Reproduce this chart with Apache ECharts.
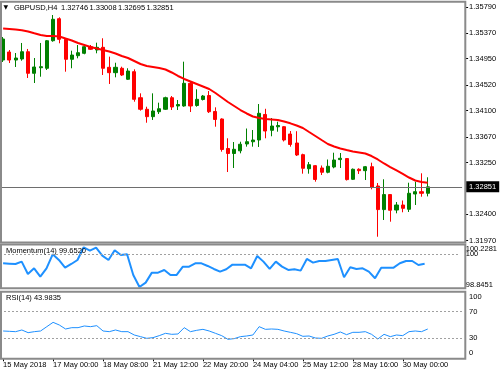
<!DOCTYPE html>
<html>
<head>
<meta charset="utf-8">
<script src="https://cdn.jsdelivr.net/npm/echarts@6.0.0/dist/echarts.min.js"></script>
<style>html,body{margin:0;padding:0;background:#fff;}#chart{width:500px;height:375px;}</style>
</head>
<body>
<div id="chart"></div>
<script>
const symbolName = 'GBPUSD,H4';
const times = [
'2018-05-15 16:00','2018-05-15 20:00','2018-05-16 00:00','2018-05-16 04:00','2018-05-16 08:00','2018-05-16 12:00','2018-05-16 16:00','2018-05-16 20:00','2018-05-17 00:00','2018-05-17 04:00',
'2018-05-17 08:00','2018-05-17 12:00','2018-05-17 16:00','2018-05-17 20:00','2018-05-18 00:00','2018-05-18 04:00','2018-05-18 08:00','2018-05-18 12:00','2018-05-18 16:00','2018-05-18 20:00',
'2018-05-20 20:00','2018-05-21 00:00','2018-05-21 04:00','2018-05-21 08:00','2018-05-21 12:00','2018-05-21 16:00','2018-05-21 20:00','2018-05-22 00:00','2018-05-22 04:00','2018-05-22 08:00',
'2018-05-22 12:00','2018-05-22 16:00','2018-05-22 20:00','2018-05-23 00:00','2018-05-23 04:00','2018-05-23 08:00','2018-05-23 12:00','2018-05-23 16:00','2018-05-23 20:00','2018-05-24 00:00',
'2018-05-24 04:00','2018-05-24 08:00','2018-05-24 12:00','2018-05-24 16:00','2018-05-24 20:00','2018-05-25 00:00','2018-05-25 04:00','2018-05-25 08:00','2018-05-25 12:00','2018-05-25 16:00',
'2018-05-25 20:00','2018-05-27 20:00','2018-05-28 00:00','2018-05-28 04:00','2018-05-28 08:00','2018-05-28 12:00','2018-05-28 16:00','2018-05-28 20:00','2018-05-29 00:00','2018-05-29 04:00',
'2018-05-29 08:00','2018-05-29 12:00','2018-05-29 16:00','2018-05-29 20:00','2018-05-30 00:00','2018-05-30 04:00','2018-05-30 08:00','2018-05-30 12:00','2018-05-30 16:00'
];
const opens = [
1.34927,1.35058,1.34927,1.34944,1.35063,1.34710,1.34801,1.34792,1.35243,1.35603,
1.35266,1.34939,1.34998,1.35037,1.35145,1.35091,1.35135,1.34808,1.34720,1.34792,
1.34612,1.34736,1.34310,1.34121,1.34000,1.34081,1.34121,1.34310,1.34175,1.34175,
1.34546,1.34183,1.34281,1.34346,1.34085,1.33962,1.33479,1.33397,1.33441,1.33553,
1.33589,1.33618,1.34036,1.33777,1.33834,1.33836,1.33716,1.33569,1.33378,1.33148,
1.33198,1.33160,1.33090,1.33176,1.33297,1.33314,1.32975,1.33139,1.33116,1.33181,
1.32865,1.32479,1.32725,1.32472,1.32554,1.32484,1.32734,1.32772,1.32746];
const highs = [
1.35304,1.35091,1.35042,1.35206,1.35108,1.34960,1.35206,1.35255,1.35664,1.35626,
1.35288,1.35080,1.35173,1.35173,1.35173,1.35211,1.35283,1.34982,1.34883,1.34818,
1.34792,1.34775,1.34382,1.34163,1.34382,1.34229,1.34327,1.34338,1.34273,1.34900,
1.34572,1.34448,1.34355,1.34420,1.34153,1.33973,1.33646,1.33585,1.33590,1.33806,
1.33782,1.34207,1.34129,1.33978,1.33918,1.33847,1.33765,1.33762,1.33394,1.33258,
1.33209,1.33201,1.33299,1.33410,1.33405,1.33323,1.33152,1.33155,1.33193,1.33247,
1.32914,1.32975,1.32725,1.32603,1.32628,1.32919,1.32936,1.33073,1.33008];
const lows = [
1.34895,1.34878,1.34813,1.34916,1.34633,1.34551,1.34654,1.34764,1.35227,1.35201,
1.34736,1.34792,1.34955,1.35021,1.35091,1.35037,1.34682,1.34535,1.34644,1.34666,
1.34600,1.34245,1.34098,1.33901,1.33946,1.34044,1.34109,1.34109,1.34109,1.34163,
1.34076,1.34163,1.34265,1.34060,1.33836,1.33427,1.33094,1.33160,1.33400,1.33509,
1.33509,1.33504,1.33646,1.33679,1.33754,1.33594,1.33509,1.33356,1.33067,1.33067,
1.32936,1.33045,1.33073,1.33155,1.33160,1.32955,1.32963,1.33062,1.32963,1.32811,
1.32035,1.32309,1.32281,1.32418,1.32435,1.32440,1.32554,1.32690,1.32695];
const closes = [
1.35271,1.34927,1.34960,1.35063,1.34710,1.34813,1.34818,1.35243,1.35594,1.35266,
1.34939,1.35009,1.35047,1.35145,1.35103,1.35135,1.34792,1.34720,1.34808,1.34682,
1.34747,1.34284,1.34121,1.34000,1.34093,1.34130,1.34310,1.34158,1.34199,1.34546,
1.34175,1.34284,1.34338,1.34081,1.33954,1.33463,1.33397,1.33466,1.33549,1.33590,
1.33618,1.34055,1.33765,1.33847,1.33855,1.33618,1.33545,1.33373,1.33155,1.33214,
1.32972,1.33090,1.33188,1.33291,1.33319,1.32970,1.33139,1.33116,1.33181,1.32841,
1.32479,1.32725,1.32468,1.32554,1.32500,1.32746,1.32772,1.32746,1.32851];
const maValues = [
1.35443,1.35435,1.35427,1.35414,1.35394,1.35364,1.35337,1.35320,1.35320,1.35312,
1.35279,1.35247,1.35206,1.35173,1.35140,1.35116,1.35091,1.35067,1.35034,1.34993,
1.34960,1.34911,1.34862,1.34829,1.34813,1.34797,1.34772,1.34723,1.34666,1.34617,
1.34576,1.34535,1.34494,1.34453,1.34387,1.34314,1.34240,1.34175,1.34109,1.34052,
1.34003,1.33978,1.33962,1.33954,1.33946,1.33921,1.33891,1.33855,1.33815,1.33749,
1.33684,1.33618,1.33553,1.33512,1.33479,1.33454,1.33430,1.33414,1.33397,1.33356,
1.33299,1.33234,1.33176,1.33119,1.33062,1.33004,1.32955,1.32931,1.32919];
const momentumValues = [
99.6702,99.6586,99.6470,99.7283,99.2983,99.4959,99.2054,99.4959,99.9840,99.7865,
99.5191,99.6470,99.7865,100.2281,100.1119,100.2165,99.9375,99.7865,100.1235,99.9608,
99.9840,99.2635,98.8451,98.9962,99.3448,99.3448,99.4378,99.2635,99.2635,99.5540,
99.5540,99.6702,99.6702,99.5773,99.4727,99.3797,99.4610,99.6237,99.6237,99.6237,
99.4959,99.9259,99.7283,99.4727,99.7283,99.5540,99.4378,99.4610,99.4146,99.8213,
99.6935,99.7516,99.7516,99.7865,99.8213,99.1821,99.5308,99.4727,99.4959,99.3797,
99.1472,99.5191,99.5191,99.5191,99.6702,99.7516,99.7516,99.6121,99.6520];
const rsiValues = [
41,40.5,40,42.5,38.5,40,41,47.5,54,50,
44,46,46,48.5,47.5,49,41,40,42.5,40,
40,35,32.5,30,31,34,37.5,36,36.5,46,
40,42,43.5,41,37.5,34,28.5,29.5,32.5,33.5,
35,47.5,43.5,44,43.5,41,39,37,33,33.5,
30.5,30,33.5,36,39.5,35.5,39,39,40,36,
29,36,32.5,35,34,40,41,40,43.9835];
const priceTicks = [1.3579,1.3537,1.3495,1.3452,1.3410,1.3367,1.3325,1.3240,1.3197];
const momentumTicks = [98.8451,100.2281];
const momentumLevel = 100;
const rsiTicks = [0,30,70,100];
const rsiLevels = [30,70];
const timeTickLabels = ['15 May 2018','17 May 00:00','18 May 08:00','21 May 12:00','22 May 20:00','24 May 04:00','25 May 12:00','28 May 16:00','30 May 00:00'];

function detectFont(){
  const ctx = document.createElement('canvas').getContext('2d');
  const s = 'Momentum(14) 99.6520';
  ctx.font = '20px monospace'; const w1 = ctx.measureText(s).width;
  ctx.font = '20px "Liberation Sans", monospace'; const w3 = ctx.measureText(s).width;
  ctx.font = '20px "Liberation Sans Narrow", monospace'; const w2 = ctx.measureText(s).width;
  if (Math.abs(w1 - w2) > 0.5 && Math.abs(w3 - w2) > 0.5) return {family:'Liberation Sans Narrow', size:9};
  return {family:'Liberation Sans', size:7.5};
}
const F = detectFont();
const txt = (extra) => Object.assign({fontFamily:F.family, fontSize:F.size, color:'#000'}, extra || {});
const gtxt = (text, x, y, extra) => ({type:'text', x:x, y:y, silent:true, z:20,
  style:Object.assign({text:text, fill:'#000', fontFamily:F.family, fontSize:F.size, verticalAlign:'middle', align:'left'}, extra || {})});

const chart = echarts.init(document.getElementById('chart'), null, {renderer:'canvas', width:500, height:375});

const padSlots = 5;
const categories = times.concat(Array.from({length:padSlots}, (_, k) => 'pad' + k));
const labelMap = {};
times.forEach((t, i) => { if (i % 8 === 0) labelMap[t] = timeTickLabels[i / 8]; });
const showTick = (i) => i < times.length && i % 8 === 0;
const last = closes.length - 1;

const GX = -0.4, GW = 462.5;
const frame = (y, h) => ({type:'rect', silent:true, z:10, shape:{x:1, y:y, width:464.3, height:h},
  style:{fill:'none', stroke:'#8a8a8a', lineWidth:2}});

const option = {
  animation:false,
  backgroundColor:'#fff',
  grid:[
    {left:GX, top:2, width:GW, height:241},
    {left:GX, top:244.3, width:GW, height:44},
    {left:GX, top:291.7, width:GW, height:66.6}
  ],
  xAxis:[0,1,2].map(g => ({
    gridIndex:g, type:'category', data:categories, boundaryGap:true,
    axisLine:{show:false}, splitLine:{show:false},
    axisTick:{show:g === 2, alignWithLabel:true, interval:(i) => showTick(i), length:3, lineStyle:{color:'#000'}},
    axisLabel:{show:g === 2, interval:(i) => showTick(i), align:'left', margin:3,
      formatter:(v) => labelMap[v] || '', ...txt()}
  })),
  yAxis:[
    {gridIndex:0, type:'value', position:'right', offset:3, min:1.319323, max:1.358768,
      axisLine:{show:false}, splitLine:{show:false},
      axisTick:{show:true, customValues:priceTicks, length:3, lineStyle:{color:'#000'}},
      axisLabel:{customValues:priceTicks, margin:4, formatter:(v) => v.toFixed(5), ...txt()}},
    {gridIndex:1, type:'value', position:'right', offset:3, min:98.7986, max:100.3327,
      axisLine:{show:false}, splitLine:{show:false}, axisTick:{show:false},
      axisLabel:{customValues:momentumTicks, margin:4,
        formatter:(v) => (v >= 100 ? '{d|' : '{u|') + v.toFixed(4) + '}',
        rich:{d:txt({padding:[4,0,0,0]}), u:txt({padding:[0,0,4,0]})}, ...txt()}},
    {gridIndex:2, type:'value', position:'right', offset:3, min:0, max:100,
      axisLine:{show:false}, splitLine:{show:false}, axisTick:{show:false},
      axisLabel:{customValues:rsiTicks, margin:4,
        formatter:(v) => v === 100 ? '{d|100}' : (v === 0 ? '{u|0}' : String(v)),
        rich:{d:txt({padding:[10,0,0,0]}), u:txt({padding:[0,0,10,0]})}, ...txt()}}
  ],
  series:[
    {type:'candlestick', xAxisIndex:0, yAxisIndex:0, barWidth:3.6,
      data:opens.map((o, i) => [o, closes[i], lows[i], highs[i]]),
      itemStyle:{color:'#008000', color0:'#ff0000', borderColor:'#008000', borderColor0:'#ff0000', borderWidth:1},
      emphasis:{disabled:true},
      markLine:{silent:true, symbol:['none','none'], precision:5,
        lineStyle:{color:'#6e6e6e', width:1, type:'solid'},
        label:{show:true, position:'end', distance:4, formatter:() => closes[last].toFixed(5),
          backgroundColor:'#000', padding:[2,3,1,3], ...txt({color:'#fff'})},
        emphasis:{disabled:true},
        data:[{yAxis:closes[last]}]}},
    {type:'line', xAxisIndex:0, yAxisIndex:0, data:maValues, symbol:'none', z:5,
      lineStyle:{color:'#ff0000', width:2}, emphasis:{disabled:true}},
    {type:'line', xAxisIndex:1, yAxisIndex:1, data:momentumValues, symbol:'none',
      lineStyle:{color:'#1e90ff', width:2}, emphasis:{disabled:true},
      markLine:{silent:true, symbol:['none','none'], precision:4, lineStyle:{color:'#a0a0a0', width:1, type:[2,2]},
        label:{show:true, position:'end', distance:7, formatter:String(momentumLevel), ...txt()},
        emphasis:{disabled:true},
        data:[{yAxis:momentumLevel}]}},
    {type:'line', xAxisIndex:2, yAxisIndex:2, data:rsiValues, symbol:'none',
      lineStyle:{color:'#1e90ff', width:1}, emphasis:{disabled:true},
      markLine:{silent:true, symbol:['none','none'], precision:4, lineStyle:{color:'#a0a0a0', width:1, type:[2,2]},
        label:{show:false}, emphasis:{disabled:true},
        data:rsiLevels.map(v => ({yAxis:v}))}}
  ],
  graphic:[
    frame(1.7, 240.8),
    frame(244.5, 43.8),
    frame(291.7, 67),
    gtxt('\u25BC', 3.5, 7.7, {fontSize:6, fontFamily:'DejaVu Sans'}),
    gtxt(symbolName, 14, 7.7),
    gtxt(opens[last].toFixed(5), 61, 7.7),
    gtxt(highs[last].toFixed(5), 89.5, 7.7),
    gtxt(lows[last].toFixed(5), 118, 7.7),
    gtxt(closes[last].toFixed(5), 146.5, 7.7),
    gtxt('Momentum(14) ' + momentumValues[last].toFixed(4), 6, 250.7),
    gtxt('RSI(14) ' + rsiValues[last].toFixed(4), 6, 297.7)
  ]
};
chart.setOption(option);
</script>
</body>
</html>
